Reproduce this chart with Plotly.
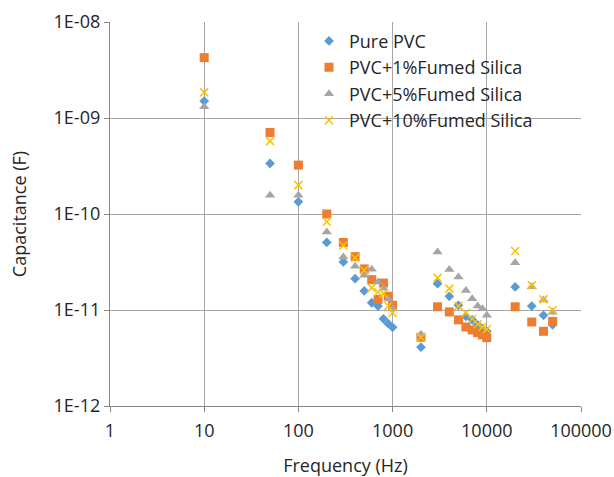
import plotly.graph_objects as go

freq = [10, 50, 100, 200, 300, 400, 500, 600, 700, 800, 900, 1000,
        2000, 3000, 4000, 5000, 6000, 7000, 8000, 9000, 10000,
        20000, 30000, 40000, 50000]

pure_pvc = [1.5e-9, 3.36e-10, 1.34e-10, 5.05e-11, 3.17e-11, 2.12e-11, 1.58e-11, 1.19e-11,
            1.1e-11, 8.1e-12, 7.2e-12, 6.6e-12, 4.1e-12, 1.88e-11, 1.39e-11, 1.12e-11,
            8.6e-12, 7.9e-12, 7.0e-12, 6.4e-12, 6.0e-12, 1.74e-11, 1.1e-11, 8.8e-12, 7.0e-12]

pvc_1 = [4.25e-9, 7.07e-10, 3.23e-10, 1.0e-10, 5.05e-11, 3.6e-11, 2.68e-11, 2.07e-11,
         1.29e-11, 1.91e-11, 1.39e-11, 1.12e-11, 5.2e-12, 1.08e-11, 9.55e-12, 7.9e-12,
         6.65e-12, 6.2e-12, 5.8e-12, 5.5e-12, 5.15e-12, 1.08e-11, 7.5e-12, 6.0e-12, 7.6e-12]

pvc_5 = [1.31e-9, 1.57e-10, 1.57e-10, 6.5e-11, 3.57e-11, 2.86e-11, 2.3e-11, 2.65e-11,
         1.96e-11, 1.68e-11, 1.3e-11, 1.03e-11, 5.6e-12, 4.03e-11, 2.64e-11, 2.21e-11,
         1.6e-11, 1.31e-11, 1.1e-11, 1.03e-11, 8.8e-12, 3.1e-11, 1.75e-11, 1.27e-11, 9.5e-12]

pvc_10 = [1.85e-9, 5.74e-10, 2.0e-10, 8.3e-11, 4.7e-11, 3.5e-11, 2.6e-11, 1.7e-11,
          1.54e-11, 1.48e-11, 1.1e-11, 9.3e-12, 5.2e-12, 2.16e-11, 1.67e-11, 1.1e-11,
          9.3e-12, 8.1e-12, 7.1e-12, 6.65e-12, 6.3e-12, 4.12e-11, 1.81e-11, 1.29e-11, 1.0e-11]

series_names = ["Pure PVC", "PVC+1%Fumed Silica", "PVC+5%Fumed Silica", "PVC+10%Fumed Silica"]

x_tickvals = [1, 10, 100, 1000, 10000, 100000]
x_ticktext = ["1", "10", "100", "1000", "10000", "100000"]
y_tickvals = [1e-12, 1e-11, 1e-10, 1e-9, 1e-8]
y_ticktext = ["1E-12", "1E-11", "1E-10", "1E-09", "1E-08"]

FONT = "Open Sans"
TXT = "#262626"
fig = go.Figure()

fig.add_trace(go.Scatter(x=freq, y=pure_pvc, mode="markers", name=series_names[0],
                         marker=dict(symbol="diamond", size=7.5, color="#5B9BD5",
                                     line=dict(width=0))))
fig.add_trace(go.Scatter(x=freq, y=pvc_1, mode="markers", name=series_names[1],
                         marker=dict(symbol="square", size=9, color="#ED7D31",
                                     line=dict(width=0))))
fig.add_trace(go.Scatter(x=freq, y=pvc_5, mode="markers", name=series_names[2],
                         marker=dict(symbol="triangle-up", size=9, color="#A5A5A5",
                                     line=dict(width=0))))
fig.add_trace(go.Scatter(x=freq, y=pvc_10, mode="markers", name=series_names[3],
                         marker=dict(symbol="x-thin", size=8, color="#FFC000",
                                     line=dict(width=1.5, color="#FFC000"))))

fig.update_layout(
    width=614, height=477,
    margin=dict(l=110, r=33, t=22, b=71, autoexpand=False),
    paper_bgcolor="white", plot_bgcolor="white",
    font=dict(family=FONT, size=18, color=TXT),
    showlegend=True,
    legend=dict(x=0.4225, y=0.998, xanchor="left", yanchor="top",
                bgcolor="rgba(0,0,0,0)", font=dict(family=FONT, size=18, color=TXT),
                itemwidth=30, tracegroupgap=0),
)

fig.update_xaxes(
    type="log", range=[0, 5], automargin=False,
    tickvals=x_tickvals, ticktext=x_ticktext,
    showgrid=True, gridcolor="#A6A6A6", gridwidth=1.3,
    showline=True, linecolor="#868686", linewidth=1.3,
    ticks="outside", ticklen=5, tickcolor="#868686", tickwidth=1,
    ticklabelstandoff=3,
    tickfont=dict(family=FONT, size=18, color=TXT),
    title=dict(text="Frequency (Hz)", font=dict(family=FONT, size=18, color=TXT), standoff=18),
    zeroline=False,
)
fig.update_yaxes(
    type="log", range=[-12, -8], automargin=False,
    tickvals=y_tickvals, ticktext=y_ticktext,
    showgrid=True, gridcolor="#A6A6A6", gridwidth=1.3,
    showline=True, linecolor="#868686", linewidth=1.3,
    ticks="outside", ticklen=5, tickcolor="#868686", tickwidth=1,
    tickfont=dict(family=FONT, size=18, color=TXT),
    title=dict(text="Capacitance (F)", font=dict(family=FONT, size=18, color=TXT), standoff=22),
    zeroline=False,
)

fig.write_html("out.html", config={"displayModeBar": False},
               post_script="document.body.style.margin='0';")
